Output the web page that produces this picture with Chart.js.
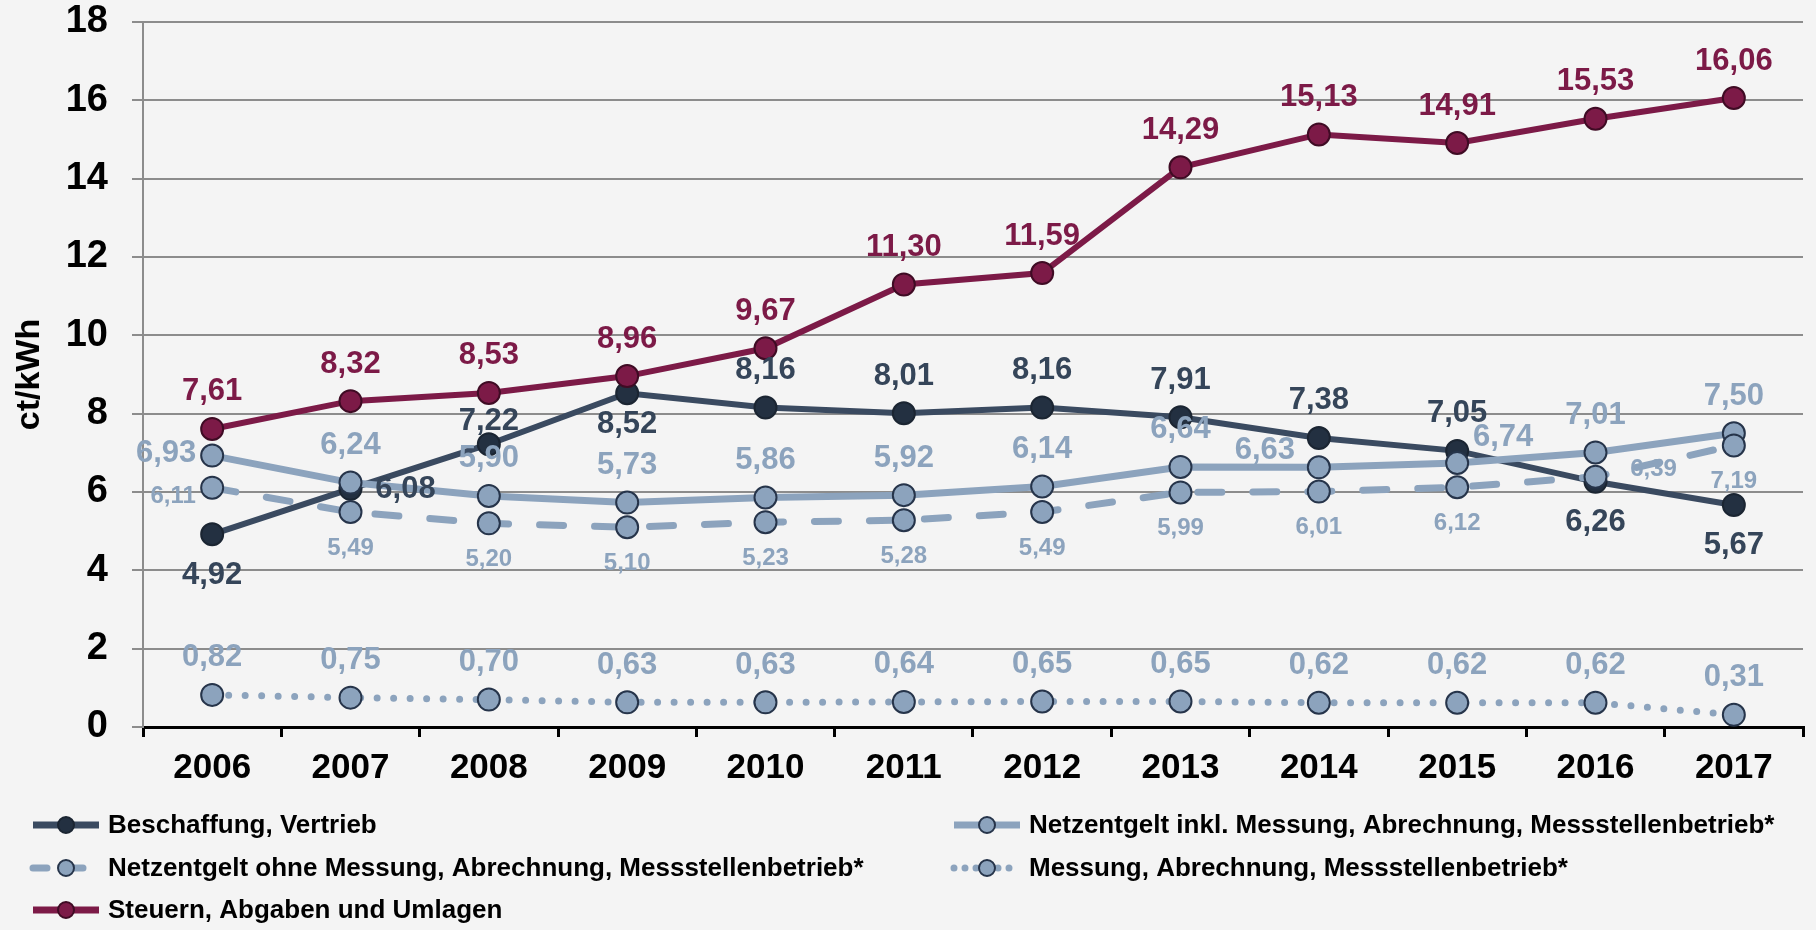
<!DOCTYPE html>
<html>
<head>
<meta charset="utf-8">
<script src="https://cdn.jsdelivr.net/npm/chart.js@4.4.0/dist/chart.umd.min.js"></script>
<style>
  html, body { margin: 0; padding: 0; background: #f4f4f4; }
  canvas { display: block; }
</style>
</head>
<body>
<canvas id="chart" width="1816" height="930"></canvas>
<script>
// data
const years = ['2006', '2007', '2008', '2009', '2010', '2011', '2012', '2013', '2014', '2015', '2016', '2017'];
const beschaffung = [4.92, 6.08, 7.22, 8.52, 8.16, 8.01, 8.16, 7.91, 7.38, 7.05, 6.26, 5.67];
const netzInkl = [6.93, 6.24, 5.90, 5.73, 5.86, 5.92, 6.14, 6.64, 6.63, 6.74, 7.01, 7.50];
const netzOhne = [6.11, 5.49, 5.20, 5.10, 5.23, 5.28, 5.49, 5.99, 6.01, 6.12, 6.39, 7.19];
const messung = [0.82, 0.75, 0.70, 0.63, 0.63, 0.64, 0.65, 0.65, 0.62, 0.62, 0.62, 0.31];
const steuern = [7.61, 8.32, 8.53, 8.96, 9.67, 11.30, 11.59, 14.29, 15.13, 14.91, 15.53, 16.06];
const yTicks = [0, 2, 4, 6, 8, 10, 12, 14, 16, 18];

const FONT = "'Liberation Sans', Arial, sans-serif";
const DARK = '#3a4a60';
const LIGHT = '#8ca3bd';
const RED = '#7c1a47';

// where the value label sits relative to its point
const OFFS = {
  t: [0, -37], b: [0, 41], tn: [0, -23], bn: [0, 31],
  l: [-46, -2], r: [55, 1], tl: [-54, -17], tr: [46, -26],
  sl: [-39, 9], sb: [0, 36], sr: [58, -7]
};

function series(label, data, opts) {
  return Object.assign({
    label: label,
    data: data,
    borderWidth: 6,
    tension: 0,
    pointRadius: 11,
    pointHoverRadius: 11,
    pointBorderWidth: 2,
    fill: false
  }, opts);
}

const datasets = [
  series('Beschaffung, Vertrieb', beschaffung, {
    borderColor: DARK, pointBackgroundColor: '#233041', pointBorderColor: '#1b2532',
    order: 4, labelColor: '#354559', labelFont: 'bold 31px ' + FONT,
    labelPos: ['b', 'r', 'tn', 'bn', 't', 't', 't', 't', 't', 't', 'b', 'b']
  }),
  series('Netzentgelt inkl. Messung, Abrechnung, Messstellenbetrieb*', netzInkl, {
    borderColor: LIGHT, borderWidth: 7, pointBackgroundColor: LIGHT, pointBorderColor: '#26344a',
    order: 2, labelColor: LIGHT, labelFont: 'bold 31px ' + FONT,
    labelPos: ['l', 't', 't', 't', 't', 't', 't', 't', 'tl', 'tr', 't', 't']
  }),
  series('Netzentgelt ohne Messung, Abrechnung, Messstellenbetrieb*', netzOhne, {
    borderColor: LIGHT, borderWidth: 7, borderDash: [24, 31], borderCapStyle: 'round',
    pointBackgroundColor: LIGHT, pointBorderColor: '#26344a',
    order: 1, labelColor: LIGHT, labelFont: 'bold 24px ' + FONT,
    labelPos: ['sl', 'sb', 'sb', 'sb', 'sb', 'sb', 'sb', 'sb', 'sb', 'sb', 'sr', 'sb']
  }),
  series('Messung, Abrechnung, Messstellenbetrieb*', messung, {
    borderColor: LIGHT, borderWidth: 7, borderDash: [0, 16.5], borderCapStyle: 'round',
    pointBackgroundColor: LIGHT, pointBorderColor: '#26344a',
    order: 3, labelColor: LIGHT, labelFont: 'bold 31px ' + FONT,
    labelPos: years.map(() => 't')
  }),
  series('Steuern, Abgaben und Umlagen', steuern, {
    borderColor: RED, pointBackgroundColor: RED, pointBorderColor: '#3f0b24',
    order: 0, labelColor: RED, labelFont: 'bold 31px ' + FONT,
    labelPos: years.map(() => 't')
  })
];

const background = {
  id: 'background',
  beforeDraw(chart) {
    const c = chart.ctx;
    c.save();
    c.fillStyle = '#f4f4f4';
    c.fillRect(0, 0, chart.width, chart.height);
    c.restore();
  }
};

const valueLabels = {
  id: 'valueLabels',
  afterDatasetsDraw(chart) {
    const c = chart.ctx;
    c.save();
    c.textAlign = 'center';
    c.textBaseline = 'middle';
    chart.data.datasets.forEach((ds, i) => {
      const meta = chart.getDatasetMeta(i);
      c.font = ds.labelFont;
      c.fillStyle = ds.labelColor;
      meta.data.forEach((pt, j) => {
        const o = OFFS[ds.labelPos[j]];
        c.fillText(ds.data[j].toFixed(2).replace('.', ','), pt.x + o[0], pt.y + o[1]);
      });
    });
    c.restore();
  }
};

// two-column legend under the plot
const legendSlots = [[29, 825], [950, 825], [29, 868], [950, 868], [29, 910]];
const customLegend = {
  id: 'customLegend',
  afterDraw(chart) {
    const c = chart.ctx;
    c.save();
    chart.data.datasets.forEach((ds, i) => {
      const [x, y] = legendSlots[i];
      const w = 74;
      c.beginPath();
      c.lineWidth = 7;
      c.strokeStyle = ds.borderColor;
      c.lineCap = ds.borderCapStyle === 'round' ? 'round' : 'butt';
      if (ds.borderDash) c.setLineDash(ds.borderDash[0] === 0 ? [0, 11] : [14, 22]);
      else c.setLineDash([]);
      c.moveTo(x + 4, y);
      c.lineTo(x + w - 4, y);
      c.stroke();
      c.setLineDash([]);
      c.beginPath();
      c.arc(x + w / 2, y, 8, 0, Math.PI * 2);
      c.fillStyle = ds.pointBackgroundColor;
      c.fill();
      c.lineWidth = 2;
      c.strokeStyle = ds.pointBorderColor;
      c.stroke();
      c.font = 'bold 26px ' + FONT;
      c.fillStyle = '#000';
      c.textAlign = 'left';
      c.textBaseline = 'middle';
      c.fillText(ds.label, x + w + 5, y + 1);
    });
    c.restore();
  }
};

new Chart(document.getElementById('chart'), {
  type: 'line',
  data: { labels: years, datasets: datasets },
  options: {
    responsive: false,
    animation: false,
    devicePixelRatio: 1,
    layout: { padding: { left: 0, top: 22, right: 6, bottom: 150 } },
    plugins: { legend: { display: false }, tooltip: { enabled: false } },
    scales: {
      x: {
        offset: true,
        afterFit(scale) { scale.height = 53; scale.paddingLeft = 0; scale.paddingRight = 0; },
        grid: {
          offset: true, drawOnChartArea: false, drawTicks: true,
          tickLength: 10, color: '#000', lineWidth: 3
        },
        border: { color: '#000', width: 3 },
        ticks: { color: '#000', padding: 10, font: { family: FONT, size: 35, weight: 'bold' } }
      },
      y: {
        min: 0, max: 18,
        afterFit(scale) { scale.width = 143; scale.paddingTop = 0; scale.paddingBottom = 0; },
        afterBuildTicks(scale) { scale.ticks = yTicks.map(v => ({ value: v })); },
        grid: { color: '#8c8c8c', lineWidth: 2, tickLength: 11 },
        border: { color: '#8c8c8c', width: 2 },
        ticks: { color: '#000', padding: 24, font: { family: FONT, size: 38, weight: 'bold' } },
        title: {
          display: true, text: 'ct/kWh', color: '#000',
          padding: { top: 9, bottom: 0 },
          font: { family: FONT, size: 34, weight: 'bold' }
        }
      }
    }
  },
  plugins: [background, valueLabels, customLegend]
});
</script>
</body>
</html>
